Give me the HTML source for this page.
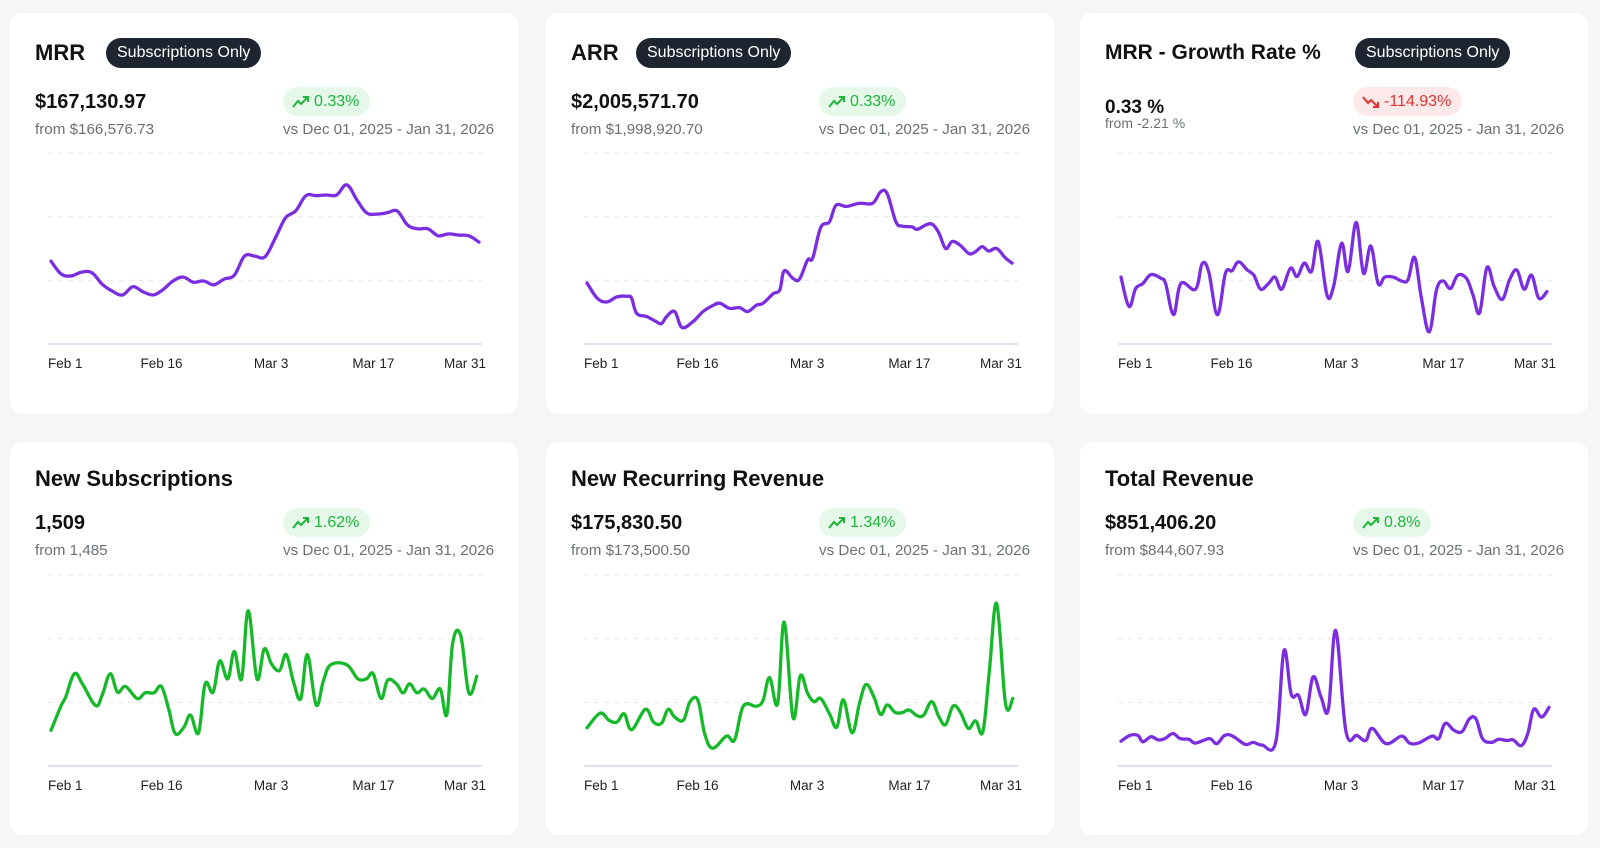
<!DOCTYPE html>
<html><head><meta charset="utf-8">
<style>
*{box-sizing:border-box;margin:0;padding:0}
body{width:1600px;height:848px;background:#f6f6f7;font-family:"Liberation Sans",sans-serif;position:relative;overflow:hidden}
.card{position:absolute;width:508px;background:#fff;border-radius:12px}
.r1{top:13px;height:401px}.r2{top:442px;height:393px}
.t{position:absolute;left:25px;font-size:22px;font-weight:bold;color:#111;line-height:26px;white-space:nowrap}
.badge{position:absolute;background:#1f2530;color:#fff;font-size:16px;border-radius:15px;height:30px;line-height:30px;padding:0 11px;white-space:nowrap}
.v{position:absolute;left:25px;font-size:20px;font-weight:bold;color:#111;line-height:24px;white-space:nowrap}
.s{position:absolute;font-size:15.2px;color:#6b7075;line-height:18px;white-space:nowrap}
.pill{position:absolute;left:273px;height:29px;line-height:29px;border-radius:15px;padding:0 11px 0 9px;font-size:16px;white-space:nowrap}
.up{background:#e6f8e9;color:#1eb53a}.dn{background:#fde9e9;color:#e0312f}
.pill svg{vertical-align:-3px;margin-right:4px}
svg.ch{position:absolute;left:0;top:0}
</style></head><body>

<div class="card r1" style="left:10px">
 <div class="t" style="top:27px">MRR</div>
 <div class="badge" style="left:96px;top:25px">Subscriptions Only</div>
 <div class="v" style="top:77px">$167,130.97</div>
 <div class="s" style="left:25px;top:108px">from $166,576.73</div>
 <div class="pill up" style="top:74px"><svg width="18" height="14" viewBox="0 0 18 14"><path d="M1 12 L6 6 L9 9 L16 2 M11 2 H16 V7" fill="none" stroke="currentColor" stroke-width="2"/></svg>0.33%</div>
 <div class="s" style="left:273px;top:108px">vs Dec 01, 2025 - Jan 31, 2026</div>
 <svg class="ch" id="c1" width="508" height="401"></svg>
</div>

<div class="card r1" style="left:546px">
 <div class="t" style="top:27px">ARR</div>
 <div class="badge" style="left:90px;top:25px">Subscriptions Only</div>
 <div class="v" style="top:77px">$2,005,571.70</div>
 <div class="s" style="left:25px;top:108px">from $1,998,920.70</div>
 <div class="pill up" style="top:74px"><svg width="18" height="14" viewBox="0 0 18 14"><path d="M1 12 L6 6 L9 9 L16 2 M11 2 H16 V7" fill="none" stroke="currentColor" stroke-width="2"/></svg>0.33%</div>
 <div class="s" style="left:273px;top:108px">vs Dec 01, 2025 - Jan 31, 2026</div>
 <svg class="ch" id="c2" width="508" height="401"></svg>
</div>

<div class="card r1" style="left:1080px">
 <div class="t" style="top:27px;font-size:21px">MRR - Growth Rate %</div>
 <div class="badge" style="left:275px;top:25px">Subscriptions Only</div>
 <div class="v" style="top:83px;font-size:19px">0.33 %</div>
 <div class="s" style="left:25px;top:102px;font-size:14px;line-height:16px">from -2.21 %</div>
 <div class="pill dn" style="top:74px"><svg width="18" height="14" viewBox="0 0 18 14"><path d="M1 2 L6 8 L9 5 L16 12 M11 12 H16 V7" fill="none" stroke="currentColor" stroke-width="2"/></svg>-114.93%</div>
 <div class="s" style="left:273px;top:108px">vs Dec 01, 2025 - Jan 31, 2026</div>
 <svg class="ch" id="c3" width="508" height="401"></svg>
</div>

<div class="card r2" style="left:10px">
 <div class="t" style="top:24px">New Subscriptions</div>
 <div class="v" style="top:69px">1,509</div>
 <div class="s" style="left:25px;top:100px">from 1,485</div>
 <div class="pill up" style="top:66px"><svg width="18" height="14" viewBox="0 0 18 14"><path d="M1 12 L6 6 L9 9 L16 2 M11 2 H16 V7" fill="none" stroke="currentColor" stroke-width="2"/></svg>1.62%</div>
 <div class="s" style="left:273px;top:100px">vs Dec 01, 2025 - Jan 31, 2026</div>
 <svg class="ch" id="c4" width="508" height="393"></svg>
</div>

<div class="card r2" style="left:546px">
 <div class="t" style="top:24px">New Recurring Revenue</div>
 <div class="v" style="top:69px">$175,830.50</div>
 <div class="s" style="left:25px;top:100px">from $173,500.50</div>
 <div class="pill up" style="top:66px"><svg width="18" height="14" viewBox="0 0 18 14"><path d="M1 12 L6 6 L9 9 L16 2 M11 2 H16 V7" fill="none" stroke="currentColor" stroke-width="2"/></svg>1.34%</div>
 <div class="s" style="left:273px;top:100px">vs Dec 01, 2025 - Jan 31, 2026</div>
 <svg class="ch" id="c5" width="508" height="393"></svg>
</div>

<div class="card r2" style="left:1080px">
 <div class="t" style="top:24px">Total Revenue</div>
 <div class="v" style="top:69px">$851,406.20</div>
 <div class="s" style="left:25px;top:100px">from $844,607.93</div>
 <div class="pill up" style="top:66px"><svg width="18" height="14" viewBox="0 0 18 14"><path d="M1 12 L6 6 L9 9 L16 2 M11 2 H16 V7" fill="none" stroke="currentColor" stroke-width="2"/></svg>0.8%</div>
 <div class="s" style="left:273px;top:100px">vs Dec 01, 2025 - Jan 31, 2026</div>
 <svg class="ch" id="c6" width="508" height="393"></svg>
</div>

<script>
const tickLabels = ["Feb 1","Feb 16","Mar 3","Mar 17","Mar 31"];
const tickDays = [0,15,30,44,58];
const gridValues = [100,200,300];

const mrrDays = [0,1.4,2.8,4.2,5.6,7,8.4,9.8,11.2,12.6,14,15.3,16.7,18.1,19.5,20.9,22.3,23.7,25.1,26.5,27.9,29.3,30.7,32.1,33.5,34.9,36.3,37.7,39.1,40.5,41.9,43.2,44.6,46,47.4,48.8,50.2,51.6,53,54.4,55.8,57.2,58.6];
const mrrValues = [130,110,107,113,112,94,83,77,90,82,77,85,99,105,97,99,93,102,108,138,138,137,166,198,209,233,233,234,234,250,226,206,204,206,209,187,181,181,170,173,171,170,160];

const arrDays = [0,1.4,2.7,4.1,5.5,6.1,6.8,8.2,9.5,10.2,10.9,12,13,14.5,15.9,17.3,18.2,19.5,20.9,22,23.2,24.1,25.5,26.4,27,28.2,29.1,30.2,30.9,32,33.2,34.1,35.5,37.3,39.1,40.2,41.1,42.3,43.2,44.5,45.2,46.4,47.3,48.2,49.1,50,51.1,52.3,53.2,54.1,55,56.1,57.3,58.2];
const arrValues = [96,72,66,74,75,72,48,43,35,32,43,51,26,35,51,61,64,56,57,51,61,64,79,85,115,103,102,132,135,183,192,218,216,221,221,239,236,192,185,184,180,187,188,174,150,161,155,142,145,153,146,150,135,127];

const growthDays = [0,1.1,2,3,4.1,5.5,6.1,7.2,8.2,10.2,11.1,12,13.2,14.3,15.2,16.1,17.3,18.2,19.1,20.2,21.1,22,23.2,24.1,25.1,26.1,27,28.2,29.1,30.2,31.1,32.2,33.2,34.2,35.2,36.1,37.3,38.4,39.3,40.2,41.1,42.2,43.2,44.1,45.1,46.1,47.3,48.2,49.1,50.1,51.1,52.2,53.2,54.2,55.2,56.2,57.2,58.3];
const growthValues = [105,59,87,95,109,103,95,46,95,86,126,114,46,111,115,129,116,108,86,95,105,86,119,106,127,114,161,77,90,158,114,191,111,154,95,105,105,99,101,136,74,19,85,99,87,108,103,77,49,120,90,70,101,116,86,108,72,82];

const subsDays = [0,1.4,2,3.2,4.3,6.1,7,8.1,9.1,10.2,11.8,12.9,14.1,15.1,16.1,17,18.2,19.1,20.2,21.1,22.2,23.1,24.2,25.1,26.1,27,28.2,29.2,30.2,31.3,32.2,33.2,34.2,35.1,36.3,37.3,38.3,40.5,42,43.2,44.1,45.2,46.1,47.3,48.2,49.1,50.1,51.1,52.2,53.3,54.2,55,56.1,57.2,58.3];
const subsValues = [56,95,108,145,129,95,111,145,116,125,106,115,115,125,90,51,61,80,52,129,116,165,137,180,137,244,137,184,160,150,175,132,106,175,96,134,159,159,137,137,145,106,135,129,115,129,115,121,106,121,81,193,205,115,141];

const nrrDays = [0,1.8,3,4.1,5.1,6.1,8,9.1,10.2,11.1,12,13.2,14.1,15.2,16.1,17.2,19.1,20.2,21.4,23.2,24.1,25,26.1,27,28.2,29.2,30.2,31.1,32,33.2,34.2,35.1,36.3,37.3,38.2,39.3,40.2,41.1,42.2,43.2,44.1,45.2,46.1,47.2,48.2,49.1,50.1,51.1,52.2,53.2,54.2,55.1,56.1,57.3,58.3];
const nrrValues = [60,83,72,69,82,57,89,69,67,89,77,72,101,103,51,28,47,41,94,94,103,139,98,226,76,142,114,101,106,82,61,104,52,98,128,108,81,96,84,84,88,79,80,101,77,65,94,85,59,71,54,150,255,98,106];

const revDays = [0,1.2,2.3,3,4.1,5.1,6,7.1,8.1,9.3,10.2,12.1,13.1,14.2,15.3,17,18.1,19.3,21.2,22.3,23.3,24.3,25.3,26.3,27.4,28.4,29.4,30.8,32.3,33.5,34.4,36.3,38.4,39.5,40.7,42.6,43.5,44.4,45.6,46.7,47.7,48.6,49.5,50.7,51.7,52.8,53.7,54.8,55.7,56.5,57.6,58.6];
const revValues = [39,48,48,38,46,41,43,51,43,42,36,43,35,48,47,34,37,33,38,181,113,111,81,140,108,89,213,54,48,40,59,35,47,36,36,47,43,67,56,54,74,74,43,37,42,40,41,32,51,89,77,92];

const NS='http://www.w3.org/2000/svg';
function mk(tag, attrs){const e=document.createElementNS(NS,tag);for(const k in attrs)e.setAttribute(k,attrs[k]);return e;}
function smooth(pts){
  let d='M'+pts[0][0].toFixed(1)+' '+pts[0][1].toFixed(1);
  for(let i=0;i<pts.length-1;i++){
    const p0=pts[i-1]||pts[i],p1=pts[i],p2=pts[i+1],p3=pts[i+2]||p2;
    const t=0.18;
    const c1x=p1[0]+(p2[0]-p0[0])*t,c1y=p1[1]+(p2[1]-p0[1])*t;
    const c2x=p2[0]-(p3[0]-p1[0])*t,c2y=p2[1]-(p3[1]-p1[1])*t;
    d+=' C'+c1x.toFixed(1)+' '+c1y.toFixed(1)+' '+c2x.toFixed(1)+' '+c2y.toFixed(1)+' '+p2[0].toFixed(1)+' '+p2[1].toFixed(1);
  }
  return d;
}
function draw(id, days, vals, color, axisY, labelY){
  const svg=document.getElementById(id);
  const xS=d=>41+d*(428/58.6);
  const yS=v=>axisY-v*(191/300);
  gridValues.forEach(g=>{
    const l=mk('line',{x1:38,x2:472,y1:yS(g),y2:yS(g),stroke:'#e8e9ec','stroke-width':1,'stroke-dasharray':'5 5'});
    
    
    svg.appendChild(l);
  });
  const ax=mk('line',{x1:38,x2:472,y1:axisY,y2:axisY,stroke:'#dde3f0','stroke-width':2});
  
  
  svg.appendChild(ax);
  tickLabels.forEach((t,i)=>{
    const first=i===0, last=i===tickLabels.length-1;
    const tx=mk('text',{x:first?38:(last?476:xS(tickDays[i])+1),y:labelY,'text-anchor':first?'start':(last?'end':'middle'),'font-size':13.5,fill:'#222','font-family':'Liberation Sans, sans-serif'});
    tx.textContent=t;
    
    
    svg.appendChild(tx);
  });
  const pts=days.map((d,i)=>[xS(d),yS(vals[i])]);
  const p=mk('path',{d:smooth(pts),fill:'none',stroke:color,'stroke-width':3.3,'stroke-linejoin':'round','stroke-linecap':'round'});
  
  
  svg.appendChild(p);
}
const PURPLE='#7a2ee0', GREEN='#17b82a';
draw('c1',mrrDays,mrrValues,PURPLE,331,355);
draw('c2',arrDays,arrValues,PURPLE,331,355);
draw('c3',growthDays,growthValues,PURPLE,331,355);
draw('c4',subsDays,subsValues,GREEN,324,348);
draw('c5',nrrDays,nrrValues,GREEN,324,348);
draw('c6',revDays,revValues,PURPLE,324,348);
</script>
</body></html>
